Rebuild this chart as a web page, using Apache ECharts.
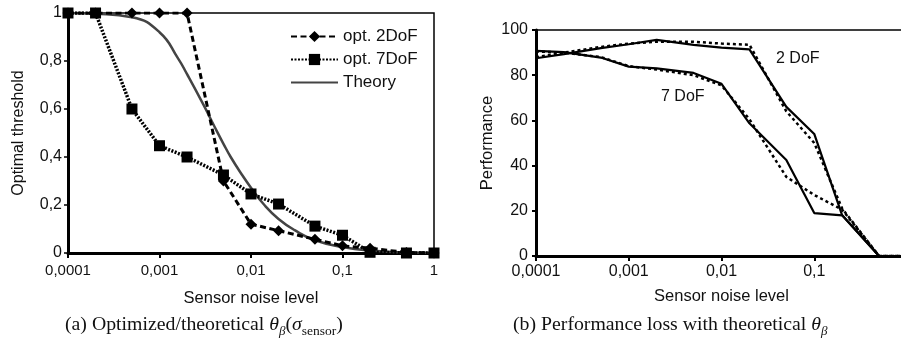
<!DOCTYPE html>
<html>
<head>
<meta charset="utf-8">
<script src="https://cdn.jsdelivr.net/npm/echarts@6/dist/echarts.min.js"></script>
<style>
html,body{margin:0;padding:0;background:#fff;}
#c{width:901px;height:349px;}
</style>
</head>
<body>
<div id="c"></div>
<script>
// ---- data ----
const noiseLevels = [0.0001, 0.0002, 0.0005, 0.001, 0.002, 0.005, 0.01, 0.02, 0.05, 0.1, 0.2, 0.5, 1];
const opt2DoF = [1, 1, 1, 1, 1, 0.30, 0.12, 0.093, 0.057, 0.03, 0.02, 0.002, 0];
const opt7DoF = [1, 1, 0.60, 0.447, 0.40, 0.325, 0.246, 0.204, 0.112, 0.074, 0.003, 0.0, 0.0];
const theoryX = [0.0001, 0.0002, 0.0005, 0.001, 0.0016, 0.002, 0.003, 0.004, 0.005, 0.006, 0.008, 0.01, 0.014, 0.02, 0.03, 0.05, 0.1, 0.2, 0.5, 1];
const theoryY = [1, 0.997, 0.982, 0.92, 0.81, 0.745, 0.62, 0.526, 0.455, 0.4, 0.325, 0.272, 0.2, 0.142, 0.095, 0.053, 0.025, 0.01, 0.002, 0];

const perf2Solid = [87.5, 89.3, 92, 93.7, 95.6, 93.4, 92.2, 91.4, 66, 54, 18, 0, 0];
const perf2Dashed = [88, 90, 92.5, 94, 94.8, 94.8, 94, 93.5, 64, 50, 21, 0, 0];
const perf7Solid = [90.8, 90.2, 87.8, 83.8, 83, 81, 76.2, 58.7, 42.5, 19, 18, 0, 0];
const perf7Dashed = [90.5, 90, 88, 84, 82.5, 80, 75.5, 60.5, 35, 27, 20.5, 0, 0];

const xTickLabels = ['0,0001', '0,001', '0,01', '0,1', '1'];
const leftYTicks = ['0', '0,2', '0,4', '0,6', '0,8', '1'];
const rightYTicks = ['0', '20', '40', '60', '80', '100'];
const seriesNames = ['opt. 2DoF', 'opt. 7DoF', 'Theory'];

const pairs = (xs, ys) => xs.map((x, i) => [x, ys[i]]);
const xFmt = v => xTickLabels[Math.round(Math.log10(v)) + 4];

const SANS = 'Liberation Sans, Arial, sans-serif';
const SERIF = 'Liberation Serif, Times New Roman, serif';

const chart = echarts.init(document.getElementById('c'), null, {renderer: 'canvas'});

function xAxisCfg(gridIndex, fs, gap, margin) {
  return {
    type: 'log', logBase: 10, gridIndex, min: 0.0001, max: 1,
    name: 'Sensor noise level', nameLocation: 'middle', nameGap: gap,
    nameTextStyle: {fontFamily: SANS, fontSize: 16.5, color: '#111'},
    axisLine: {show: true, lineStyle: {color: '#000', width: 3}},
    axisTick: {show: true, inside: false, length: 5, lineStyle: {color: '#000', width: 2}},
    axisLabel: {formatter: xFmt, fontFamily: SANS, fontSize: fs, color: '#111', margin: margin},
    splitLine: {show: false}, minorTick: {show: false}
  };
}

const rich = {
  n: {fontFamily: SERIF, fontSize: 19.8, lineHeight: 26, fill: '#111'},
  i: {fontFamily: SERIF, fontSize: 19.8, fontStyle: 'italic', lineHeight: 26, fill: '#111'},
  s: {fontFamily: SERIF, fontSize: 13, fontStyle: 'italic', lineHeight: 15, verticalAlign: 'bottom', fill: '#111'},
  r: {fontFamily: SERIF, fontSize: 13.5, lineHeight: 15, verticalAlign: 'bottom', fill: '#111'}
};

const option = {
  animation: false,
  backgroundColor: '#fff',
  grid: [
    {left: 68, right: 467, top: 13, bottom: 96, show: true, borderColor: '#000', borderWidth: 1.5,
     backgroundColor: 'transparent', outerBoundsMode: 'none', containLabel: false},
    {left: 536, right: -6, top: 30, bottom: 93, show: true, borderColor: '#000', borderWidth: 1.5,
     backgroundColor: 'transparent', outerBoundsMode: 'none', containLabel: false}
  ],
  legend: {
    data: [
      {name: seriesNames[0]},
      {name: seriesNames[1]},
      {name: seriesNames[2], itemStyle: {opacity: 0}}
    ],
    orient: 'vertical', left: 290, top: 28,
    itemWidth: 47, itemHeight: 14, itemGap: 6, padding: 0,
    textStyle: {fontFamily: SANS, fontSize: 17, color: '#111'}
  },
  xAxis: [xAxisCfg(0, 15, 37, 10), xAxisCfg(1, 16, 32, 8)],
  yAxis: [
    {
      type: 'value', gridIndex: 0, min: 0, max: 1, interval: 0.2,
      name: 'Optimal threshold', nameLocation: 'middle', nameGap: 41,
      nameTextStyle: {fontFamily: SANS, fontSize: 16, color: '#111'},
      axisLine: {show: true, lineStyle: {color: '#000', width: 3}},
      axisTick: {show: true, inside: false, length: 4, lineStyle: {color: '#000', width: 1.5}},
      axisLabel: {formatter: (v) => leftYTicks[Math.round(v * 5)], fontFamily: SANS, fontSize: 16, color: '#111', margin: 6},
      splitLine: {show: false}
    },
    {
      type: 'value', gridIndex: 1, min: 0, max: 100, interval: 20,
      name: 'Performance', nameLocation: 'middle', nameGap: 40,
      nameTextStyle: {fontFamily: SANS, fontSize: 16.5, color: '#111'},
      axisLine: {show: true, lineStyle: {color: '#000', width: 3}},
      axisTick: {show: true, inside: false, length: 4, lineStyle: {color: '#000', width: 2}},
      axisLabel: {formatter: (v) => rightYTicks[Math.round(v / 20)], fontFamily: SANS, fontSize: 16, color: '#111', margin: 8},
      splitLine: {show: false}
    }
  ],
  series: [
    {
      name: seriesNames[0], type: 'line', xAxisIndex: 0, yAxisIndex: 0, z: 4,
      data: pairs(noiseLevels, opt2DoF),
      symbol: 'diamond', symbolSize: 11,
      itemStyle: {color: '#000'},
      lineStyle: {color: '#000', width: 3, type: [6, 3.5]}
    },
    {
      name: seriesNames[1], type: 'line', xAxisIndex: 0, yAxisIndex: 0, z: 3,
      data: pairs(noiseLevels, opt7DoF),
      symbol: 'rect', symbolSize: 11,
      itemStyle: {color: '#000'},
      lineStyle: {color: '#000', width: 3.5, type: [2, 1.5]}
    },
    {
      name: seriesNames[2], type: 'line', xAxisIndex: 0, yAxisIndex: 0, z: 2,
      data: pairs(theoryX, theoryY),
      symbol: 'none', showSymbol: false, smooth: 0.5,
      itemStyle: {color: '#444'},
      lineStyle: {color: '#444', width: 2.5, type: 'solid'}
    },
    {
      name: '2 DoF solid', type: 'line', xAxisIndex: 1, yAxisIndex: 1, z: 3,
      data: pairs(noiseLevels, perf2Solid), symbol: 'none',
      lineStyle: {color: '#000', width: 2.2, type: 'solid'}
    },
    {
      name: '2 DoF dashed', type: 'line', xAxisIndex: 1, yAxisIndex: 1, z: 2,
      data: pairs(noiseLevels, perf2Dashed), symbol: 'none',
      lineStyle: {color: '#000', width: 2.5, type: [3, 3]}
    },
    {
      name: '7 DoF solid', type: 'line', xAxisIndex: 1, yAxisIndex: 1, z: 3,
      data: pairs(noiseLevels, perf7Solid), symbol: 'none',
      lineStyle: {color: '#000', width: 2.2, type: 'solid'}
    },
    {
      name: '7 DoF dashed', type: 'line', xAxisIndex: 1, yAxisIndex: 1, z: 2,
      data: pairs(noiseLevels, perf7Dashed), symbol: 'none',
      lineStyle: {color: '#000', width: 2.5, type: [3, 3]}
    }
  ],
  graphic: [
    {type: 'text', left: 776, top: 51, style: {text: '2 DoF', font: '16px ' + SANS, fill: '#111'}},
    {type: 'text', left: 661, top: 89, style: {text: '7 DoF', font: '16px ' + SANS, fill: '#111'}},
    {
      type: 'text', left: 65, top: 315,
      style: {text: '{n|(a) Optimized/theoretical }{i|θ}{s|β}{n|(}{i|σ}{r|sensor}{n|)}', rich: rich}
    },
    {
      type: 'text', left: 513, top: 315,
      style: {text: '{n|(b) Performance loss with theoretical }{i|θ}{s|β}', rich: rich}
    }
  ]
};
chart.setOption(option);
</script>
</body>
</html>
